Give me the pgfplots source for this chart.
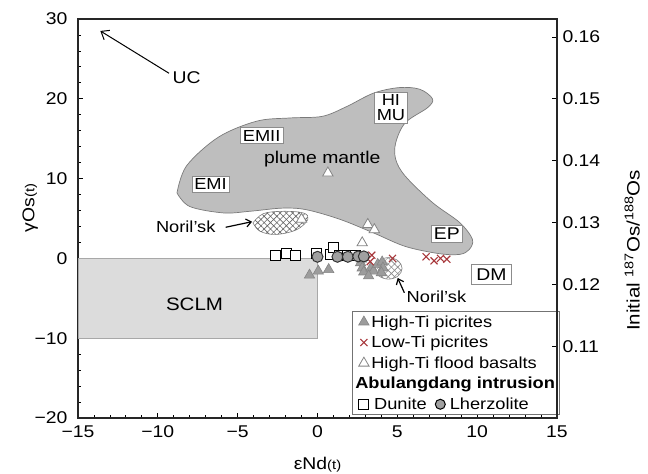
\documentclass[border=0pt]{standalone}
\usepackage{fontspec}
\setmainfont{Liberation Sans}[FakeStretch=1.14]
\usepackage{pgfplots}
\pgfplotsset{compat=1.18}
\usetikzlibrary{patterns,patterns.meta,arrows.meta}
\definecolor{plumefill}{HTML}{BEBEBE}
\definecolor{plumeline}{HTML}{7A7A7A}
\definecolor{sclmfill}{HTML}{DCDCDC}
\definecolor{sclmline}{HTML}{A8A8A8}
\definecolor{trifill}{HTML}{9C9C9C}
\definecolor{triline}{HTML}{858585}
\definecolor{xred}{HTML}{A8383C}
\definecolor{circfill}{HTML}{A0A0A0}
\newcommand{\fs}[1]{\fontsize{#1bp}{#1bp}\selectfont}
\begin{document}
\begin{tikzpicture}
\begin{axis}[name=main,
  width=479bp, height=399bp, scale only axis,
  xmin=-15, xmax=15, ymin=-20, ymax=30,
  axis line style={line width=1.2bp, black!85},
  xtick={-15,-10,...,15},
  xticklabels={−15,−10,−5,0,5,10,15},
  ytick={-20,-10,...,30},
  yticklabels={−20,−10,0,10,20,30},
  minor x tick num=4, minor y tick num=4,
  tick align=inside, xtick pos=bottom, ytick pos=left,
  major tick length=5bp, minor tick length=3bp,
  tick style={black, line width=0.8bp},
  ticklabel style={font=\fs{17}},
  xticklabel style={yshift=-4bp},
  yticklabel style={xshift=-7bp},
  xlabel={εNd{\fs{13}(t)}},
  ylabel={γOs{\fs{13}(t)}},
  label style={font=\fs{17}},
  xlabel style={at={(axis description cs:0.5,-0.118)}, anchor=center},
  ylabel style={at={(axis description cs:-0.1,0.526)}, anchor=center, rotate=0},
  clip=false,
  legend style={at={(axis description cs:0.572,0.268)}, anchor=north west,
    draw=black!55, line width=0.8bp, font=\fs{16}, fill=white,
    row sep=3.5bp, inner xsep=3bp, inner ysep=2bp,
    /tikz/every even column/.append style={column sep=2bp}},
  legend cell align=left,
]
% plume mantle
\addplot[smooth, tension=0.55, fill=plumefill, draw=plumeline, line width=0.7bp, forget plot] coordinates {
(-8.8,8.2) (-8.2,11.6) (-6.2,15.2) (-3.8,17.2) (-1.7,17.6) (0.3,17.8) (1.8,19.0) (3.5,20.7) (5.1,21.4) (6.4,21.2) (7.2,20.0) (6.9,18.9) (5.5,17.0) (4.9,14.5) (4.9,12.4) (5.5,10.3) (7.2,7.0) (8.9,4.5) (9.7,2.4) (9.5,1.1) (8.9,0.5) (7.6,0.6) (5.5,1.5) (3.5,3.2) (1.4,4.9) (-0.7,6.1) (-2.2,6.3) (-4.25,5.9) (-5.9,5.7) (-8.0,6.5) (-8.8,8.2)
} -- cycle;
% SCLM
\addplot[fill=sclmfill, draw=sclmline, line width=0.8bp, forget plot] coordinates {
(-15,0) (0,0) (0,-10) (-15,-10)
} -- cycle;
% Noril'sk upper
\addplot[smooth, tension=0.6, fill=white, draw=gray, line width=0.6bp, forget plot] coordinates {
(-4.04,4.45) (-3.4,5.6) (-2.2,5.9) (-0.9,5.7) (-0.6,4.9) (-1.3,3.6) (-2.6,3.0) (-3.6,3.4) (-4.04,4.45)
} -- cycle;
\addplot[smooth, tension=0.6, draw=none, pattern={Hatch[angle=45,distance=4.5bp,line width=0.6bp]}, pattern color=black!60, forget plot] coordinates {
(-4.04,4.45) (-3.4,5.6) (-2.2,5.9) (-0.9,5.7) (-0.6,4.9) (-1.3,3.6) (-2.6,3.0) (-3.6,3.4) (-4.04,4.45)
} -- cycle;
% Noril'sk lower
\addplot[smooth, tension=0.6, fill=white, draw=gray, line width=0.6bp, forget plot] coordinates {
(3.6,-1.25) (3.85,-0.3) (4.45,0.1) (5.05,-0.3) (5.3,-1.25) (5.05,-2.2) (4.45,-2.6) (3.85,-2.2) (3.6,-1.25)
} -- cycle;
\addplot[smooth, tension=0.6, draw=none, pattern={Hatch[angle=45,distance=4.5bp,line width=0.6bp]}, pattern color=black!45, forget plot] coordinates {
(3.6,-1.25) (3.85,-0.3) (4.45,0.1) (5.05,-0.3) (5.3,-1.25) (5.05,-2.2) (4.45,-2.6) (3.85,-2.2) (3.6,-1.25)
} -- cycle;
% labels
\node[font=\fs{17}] at (axis cs:-8.2,22.6) {UC};
\draw[line width=1bp, -{Straight Barb[length=7bp,width=11bp,line width=1bp]}] (axis cs:-9.3,23.2) -- (axis cs:-13.6,28.5);
\node[font=\fs{16}, draw=black!45, fill=white, inner sep=2.5bp, line width=0.6bp] at (axis cs:-6.7,9.3) {EMI};
\node[font=\fs{16}, draw=black!45, fill=white, inner sep=2.5bp, line width=0.6bp] at (axis cs:-3.5,15.4) {EMII};
\node[font=\fs{16}, draw=black!45, fill=white, inner sep=2.5bp, line width=0.6bp, align=center] at (axis cs:4.6,18.9) {HI\\[-1bp]MU};
\node[font=\fs{17}] at (axis cs:0.3,12.4) {plume mantle};
\node[font=\fs{17}, draw=black!45, fill=white, inner sep=2.5bp, line width=0.6bp] at (axis cs:8.1,3.1) {EP};
\node[font=\fs{17}, draw=black!45, fill=white, inner xsep=5bp, inner ysep=4bp, line width=0.6bp] at (axis cs:10.9,-2.0) {DM};
\node[font=\fs{18}] at (axis cs:-7.7,-5.75) {SCLM};
\node[font=\fs{16}] at (axis cs:-8.25,3.9) {Noril’sk};
\draw[line width=1.2bp, -{Straight Barb[length=5bp,width=8bp,line width=1.2bp]}] (axis cs:-5.75,3.9) -- (axis cs:-4.1,4.6);
\node[font=\fs{16}] at (axis cs:7.45,-4.75) {Noril’sk};
\draw[line width=1.2bp, -{Straight Barb[length=5bp,width=8bp,line width=1.2bp]}] (axis cs:5.44,-4.3) -- (axis cs:5.02,-2.45);
% High-Ti picrites
\addplot[only marks, mark=triangle*, mark size=6bp, mark options={fill=trifill, draw=triline, line width=0.6bp}] coordinates {
(-0.5,-2.1) (0.05,-1.6) (0.7,-1.4) (2.7,-0.55) (2.8,-1.2) (2.9,-1.7) (3.35,-1.2) (3.5,-1.6) (3.77,-0.75) (4.05,-0.45) (4.1,-1.2) (4.0,-1.8) (3.2,-2.2) (2.75,-0.1)
};
\addlegendentry{High-Ti picrites}
% Low-Ti picrites
\addplot[only marks, mark=x, mark size=5bp, mark options={draw=xred, line width=1.1bp}] coordinates {
(3.4,0.4) (3.3,-0.4) (4.7,0.0) (6.8,0.2) (7.3,-0.3) (7.7,0.0) (8.1,-0.1)
};
\addlegendentry{Low-Ti picrites}
% High-Ti flood basalts
\addplot[only marks, mark=triangle*, mark size=6bp, mark options={fill=white, draw=triline, line width=0.8bp}] coordinates {
(0.65,10.7) (3.15,4.25) (3.56,3.6) (2.8,1.95) (-1.0,4.9)
};
\addlegendentry{High-Ti flood basalts}
\addlegendimage{empty legend}
\addlegendentry{\hspace{-16bp}\textbf{Abulangdang intrusion}}
% Dunite
\addplot[only marks, mark=square*, mark size=5bp, mark options={fill=white, draw=black, line width=1bp}] coordinates {
(-2.6,0.4) (-1.95,0.65) (-1.35,0.4) (-0.05,0.6) (0.8,0.5) (1.0,1.4) (1.4,0.3) (1.9,0.35) (2.35,0.35)
};
\addlegendentry{\hspace{3bp}Dunite\hspace{8bp}\tikz[baseline=-0.6ex]\draw[fill=circfill, draw=black, line width=1bp] (0,0) circle (5bp);\hspace{4bp}Lherzolite}
% Lherzolite
\addplot[only marks, mark=*, mark size=5.5bp, mark options={fill=circfill, draw=black!80, line width=1bp}, forget plot] coordinates {
(0.0,0.2) (1.25,0.2) (1.9,0.2) (2.55,0.25) (2.9,0.25)
};
\end{axis}
\begin{axis}[
  width=479bp, height=399bp, scale only axis,
  xmin=-15, xmax=15, ymin=0.09839, ymax=0.16290,
  axis x line=none, axis y line*=right,
  axis line style={line width=1.2bp, black!85},
  ytick={0.11,0.12,0.13,0.14,0.15,0.16},
  yticklabels={0.11,0.12,0.13,0.14,0.15,0.16},
  tick align=inside, major tick length=5bp,
  tick style={black, line width=0.8bp},
  ticklabel style={font=\fs{17}},
  yticklabel style={xshift=2bp},
  ylabel={Initial \textsuperscript{187}Os/\textsuperscript{188}Os},
  ylabel style={font=\fs{18}, at={(axis description cs:1.157,0.42)}, anchor=center, rotate=0},
]
\end{axis}
\pgfresetboundingbox
\path[use as bounding box] ([shift={(-78bp,-56bp)}]main.south west) rectangle ([shift={(91bp,19bp)}]main.north east);
\end{tikzpicture}
\end{document}
